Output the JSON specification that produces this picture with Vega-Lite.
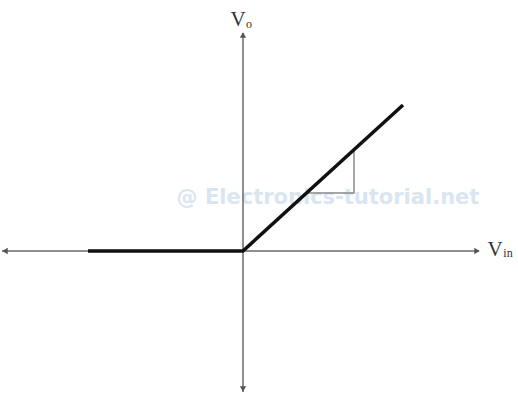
{
  "$schema": "https://vega.github.io/schema/vega-lite/v6.json",
  "width": 518,
  "height": 396,
  "autosize": {"type": "fit", "contains": "padding"},
  "padding": 0,
  "background": "white",
  "config": {"view": {"stroke": null}},
  "datasets": {
    "axes": [
      {"x": -241, "x2": 236, "y": 0, "y2": 0},
      {"x": 0, "x2": 0, "y": 218, "y2": -141}
    ],
    "arrows": [
      {"x": -238, "y": 0, "shape": "triangle-left"},
      {"x": 234, "y": 0, "shape": "triangle-right"},
      {"x": 0, "y": 216, "shape": "triangle-up"},
      {"x": 0, "y": -138, "shape": "triangle-down"}
    ],
    "curve": [
      {"seg": "a", "o": 1, "x": -155, "y": 0},
      {"seg": "a", "o": 2, "x": 0, "y": 0},
      {"seg": "a", "o": 3, "x": 160, "y": 146}
    ],
    "tri": [
      {"o": 1, "x": 64, "y": 58},
      {"o": 2, "x": 111, "y": 58},
      {"o": 3, "x": 111, "y": 101}
    ],
    "labels": [
      {"x": -5, "y": 231, "t": "V", "s": 21},
      {"x": 6, "y": 227, "t": "o", "s": 12},
      {"x": 252, "y": 1, "t": "V", "s": 21},
      {"x": 265, "y": -2, "t": "in", "s": 12}
    ],
    "wm": [
      {"x": 85, "y": 53, "t": "@  Electronics-tutorial.net"}
    ]
  },
  "layer": [
    {
      "data": {"name": "wm"},
      "mark": {"type": "text", "font": "DejaVu Sans", "fontSize": 21, "fontWeight": "bold", "color": "#d9e6f1", "align": "center", "baseline": "middle"},
      "encoding": {
        "x": {"field": "x", "type": "quantitative", "scale": {"domain": [-243, 275], "nice": false, "zero": false}, "axis": null},
        "y": {"field": "y", "type": "quantitative", "scale": {"domain": [-145, 251], "nice": false, "zero": false}, "axis": null},
        "text": {"field": "t"}
      }
    },
    {
      "data": {"name": "axes"},
      "mark": {"type": "rule", "color": "#6a6a6a", "strokeWidth": 1.5},
      "encoding": {
        "x": {"field": "x", "type": "quantitative"},
        "x2": {"field": "x2"},
        "y": {"field": "y", "type": "quantitative"},
        "y2": {"field": "y2"}
      }
    },
    {
      "data": {"name": "arrows"},
      "mark": {"type": "point", "filled": true, "color": "#555555", "size": 40, "opacity": 1},
      "encoding": {
        "x": {"field": "x", "type": "quantitative"},
        "y": {"field": "y", "type": "quantitative"},
        "shape": {"field": "shape", "type": "nominal", "scale": null, "legend": null}
      }
    },
    {
      "data": {"name": "tri"},
      "mark": {"type": "line", "color": "#8a8a8a", "strokeWidth": 1.5},
      "encoding": {
        "x": {"field": "x", "type": "quantitative"},
        "y": {"field": "y", "type": "quantitative"},
        "order": {"field": "o"}
      }
    },
    {
      "data": {"name": "curve"},
      "mark": {"type": "line", "color": "#111111", "strokeWidth": 3.5},
      "encoding": {
        "x": {"field": "x", "type": "quantitative"},
        "y": {"field": "y", "type": "quantitative"},
        "detail": {"field": "seg"},
        "order": {"field": "o"}
      }
    },
    {
      "data": {"name": "labels"},
      "mark": {"type": "text", "font": "Liberation Serif", "color": "#333333", "align": "center", "baseline": "middle"},
      "encoding": {
        "x": {"field": "x", "type": "quantitative"},
        "y": {"field": "y", "type": "quantitative"},
        "text": {"field": "t"},
        "size": {"field": "s", "type": "quantitative", "scale": null, "legend": null}
      }
    }
  ]
}
